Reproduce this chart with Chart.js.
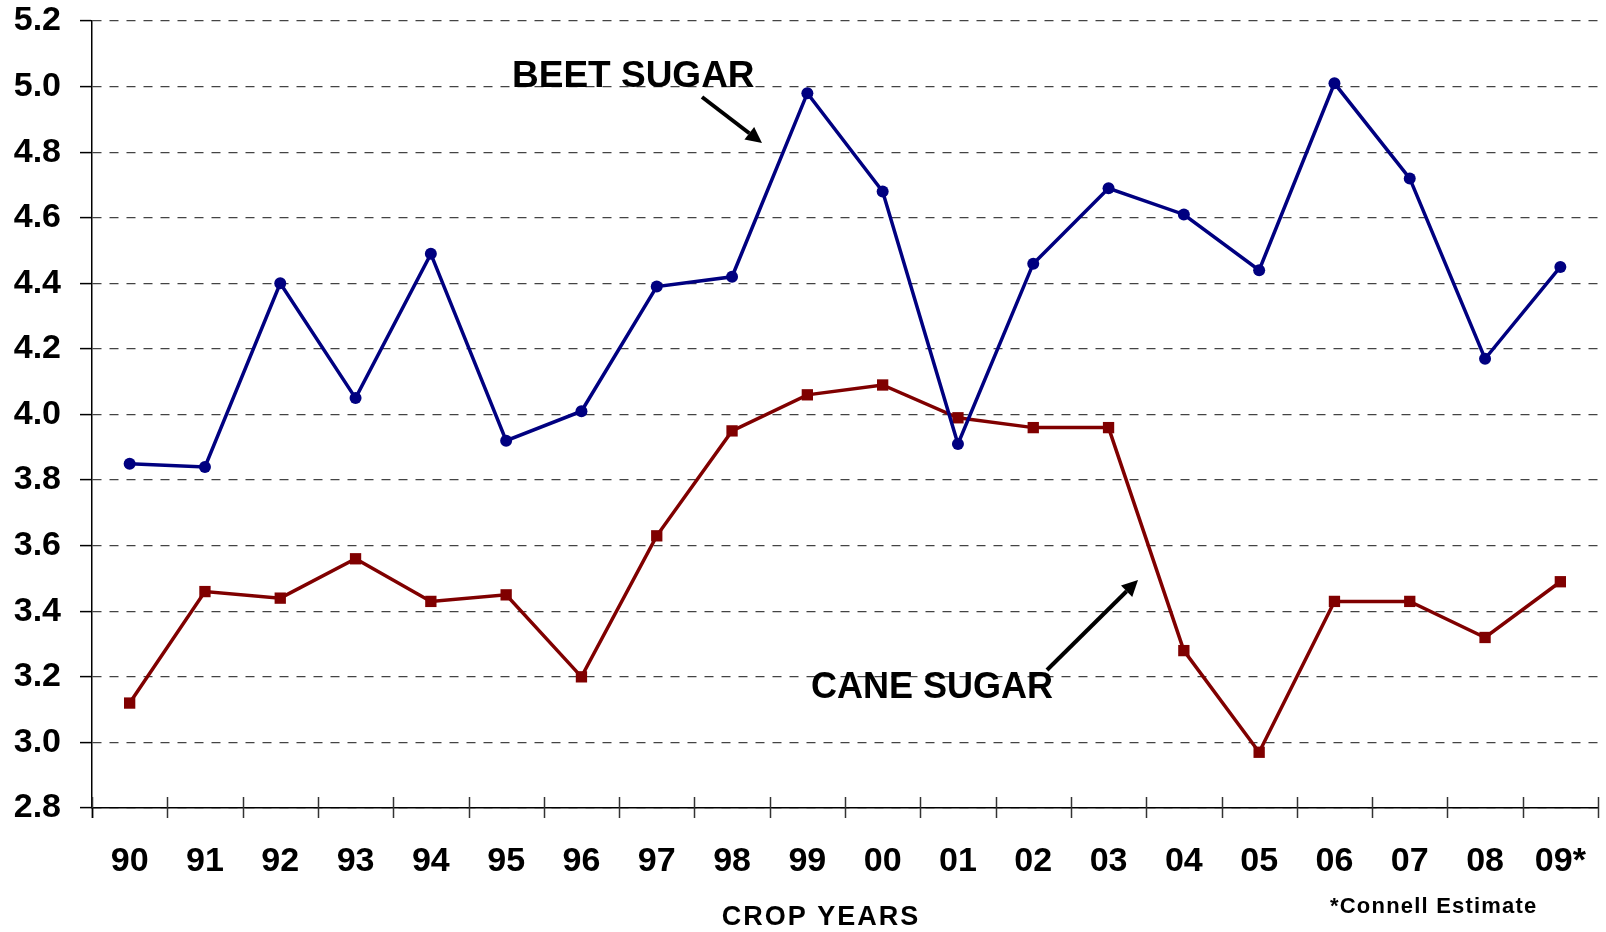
<!DOCTYPE html>
<html>
<head>
<meta charset="utf-8">
<script src="https://cdn.jsdelivr.net/npm/chart.js@4.4.1/dist/chart.umd.min.js"></script>
<style>
  html, body { margin: 0; padding: 0; background: #fff; }
  #wrap { width: 1606px; height: 932px; position: relative; }
</style>
</head>
<body>
<div id="wrap"><canvas id="c" width="1606" height="932"></canvas></div>
<script>
const categories = ['90','91','92','93','94','95','96','97','98','99','00','01','02','03','04','05','06','07','08','09*'];
const beetSugar = [3.85,3.84,4.40,4.05,4.49,3.92,4.01,4.39,4.42,4.98,4.68,3.91,4.46,4.69,4.61,4.44,5.01,4.72,4.17,4.45];
const caneSugar = [3.12,3.46,3.44,3.56,3.43,3.45,3.20,3.63,3.95,4.06,4.09,3.99,3.96,3.96,3.28,2.97,3.43,3.43,3.32,3.49];
const yMin = 2.8, yMax = 5.2, yStep = 0.2;

const FONT = '"Liberation Sans", Arial, sans-serif';

function zeroPad(scale) {
  scale.paddingLeft = 0; scale.paddingRight = 0;
  scale.paddingTop = 0; scale.paddingBottom = 0;
}

const decor = {
  id: 'decor',
  afterDraw(chart) {
    const ctx = chart.ctx;
    const xs = chart.scales.x, ys = chart.scales.y;
    const bottom = ys.bottom;
    ctx.save();
    // x tick marks crossing the axis at category boundaries
    ctx.strokeStyle = '#333';
    ctx.lineWidth = 1.5;
    const n = categories.length;
    const w = (xs.right - xs.left) / n;
    for (let i = 0; i <= n; i++) {
      const x = Math.round(xs.left + i * w) + 0.5;
      ctx.beginPath();
      ctx.moveTo(x, bottom - 11);
      ctx.lineTo(x, bottom + 10);
      ctx.stroke();
    }
    // y axis extension below axis
    ctx.strokeStyle = '#000';
    ctx.beginPath();
    ctx.moveTo(xs.left + 0.5, bottom);
    ctx.lineTo(xs.left + 0.5, bottom + 10);
    ctx.stroke();

    // Texts
    ctx.fillStyle = '#000';
    ctx.textBaseline = 'alphabetic';
    ctx.textAlign = 'left';
    ctx.font = 'bold 37px ' + FONT;
    ctx.fillText('BEET SUGAR', 512, 87);
    ctx.font = 'bold 36px ' + FONT;
    ctx.fillText('CANE SUGAR', 811, 698);
    ctx.font = 'bold 27px ' + FONT;
    ctx.letterSpacing = '2px';
    ctx.textAlign = 'center';
    ctx.fillText('CROP YEARS', 821, 925);
    ctx.font = 'bold 22px ' + FONT;
    ctx.letterSpacing = '1.2px';
    ctx.textAlign = 'left';
    ctx.fillText('*Connell Estimate', 1330, 913);
    ctx.letterSpacing = '0px';

    // Arrows
    function arrow(x1, y1, x2, y2) {
      const ang = Math.atan2(y2 - y1, x2 - x1);
      const hl = 16, hw = 8;
      const bx = x2 - hl * Math.cos(ang), by = y2 - hl * Math.sin(ang);
      ctx.strokeStyle = '#000';
      ctx.lineWidth = 4;
      ctx.beginPath();
      ctx.moveTo(x1, y1);
      ctx.lineTo(bx, by);
      ctx.stroke();
      ctx.beginPath();
      ctx.moveTo(x2, y2);
      ctx.lineTo(bx + hw * Math.sin(ang), by - hw * Math.cos(ang));
      ctx.lineTo(bx - hw * Math.sin(ang), by + hw * Math.cos(ang));
      ctx.closePath();
      ctx.fillStyle = '#000';
      ctx.fill();
    }
    arrow(702, 97, 762, 143);
    arrow(1047, 670, 1138, 580);
    ctx.restore();
  }
};

new Chart(document.getElementById('c'), {
  type: 'line',
  data: {
    labels: categories,
    datasets: [
      {
        label: 'BEET SUGAR',
        data: beetSugar,
        borderColor: '#000080',
        backgroundColor: '#000080',
        borderWidth: 3.5,
        pointStyle: 'circle',
        pointRadius: 6,
        pointBorderWidth: 0,
        tension: 0
      },
      {
        label: 'CANE SUGAR',
        data: caneSugar,
        borderColor: '#800000',
        backgroundColor: '#800000',
        borderWidth: 3.5,
        pointStyle: 'rect',
        pointRadius: 8,
        pointBorderWidth: 0,
        tension: 0
      }
    ]
  },
  options: {
    responsive: false,
    animation: false,
    devicePixelRatio: 1,
    layout: { padding: { left: 0, right: 3, top: 21, bottom: 0 } },
    plugins: { legend: { display: false }, tooltip: { enabled: false } },
    scales: {
      x: {
        type: 'category',
        offset: true,
        grid: { display: true, offset: true, drawOnChartArea: false, drawTicks: false },
        border: { display: true, color: '#000', width: 1.5 },
        ticks: {
          color: '#000',
          font: { family: FONT, size: 34, weight: 'bold' },
          padding: 33,
          maxRotation: 0,
          autoSkip: false
        },
        afterFit(scale) { scale.height = 124; zeroPad(scale); }
      },
      y: {
        min: yMin,
        max: yMax,
        grid: {
          color: '#444',
          lineWidth: 1.2,
          drawTicks: true,
          tickLength: 12,
          tickColor: '#000',
          tickWidth: 1.5
        },
        border: { display: true, color: '#000', width: 1.5, dash: [9, 8] },
        ticks: {
          stepSize: yStep,
          color: '#000',
          padding: 19,
          font: { family: FONT, size: 34, weight: 'bold' },
          callback: (v) => Number(v).toFixed(1)
        },
        afterFit(scale) { scale.width = 92; zeroPad(scale); }
      }
    }
  },
  plugins: [decor]
});
</script>
</body>
</html>
